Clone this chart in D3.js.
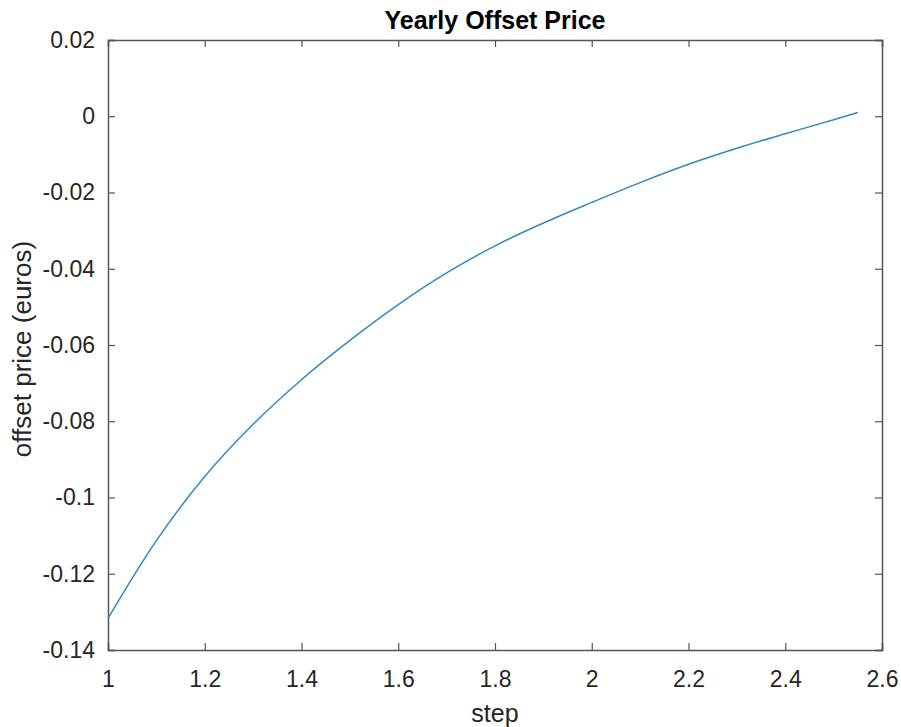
<!DOCTYPE html>
<html>
<head>
<meta charset="utf-8">
<script src="https://d3js.org/d3.v7.min.js"></script>
<style>
body { margin: 0; background: #fff; }
text { font-family: "Liberation Sans", Arial, sans-serif; fill: #262626; }
.axis path, .axis line { stroke: #555; }
</style>
</head>
<body>
<svg id="chart" width="901" height="727"></svg>
<script>
// values
var steps  = [1.0, 1.1, 1.2, 1.3, 1.4, 1.5, 1.6, 1.7, 1.8, 1.9, 2.0, 2.1, 2.2, 2.3, 2.4, 2.5, 2.55];
var prices = [-0.1317, -0.1113, -0.0945, -0.0808, -0.0691, -0.0588, -0.0494, -0.0411, -0.0340, -0.0280,
              -0.0226, -0.0174, -0.0126, -0.0084, -0.0046, -0.0009, 0.0010];
var xTicks = [1, 1.2, 1.4, 1.6, 1.8, 2, 2.2, 2.4, 2.6];
var yTicks = [0.02, 0, -0.02, -0.04, -0.06, -0.08, -0.1, -0.12, -0.14];

var svg = d3.select("#chart");
var margin = {top: 40, right: 19, bottom: 77, left: 108},
    width = 901 - margin.left - margin.right,
    height = 727 - margin.top - margin.bottom;

var x = d3.scaleLinear().domain([1, 2.6]).range([0, width]);
var y = d3.scaleLinear().domain([-0.14, 0.02]).range([height, 0]);

var g = svg.append("g")
    .attr("transform", "translate(" + margin.left + "," + margin.top + ")");

// axes, matlab style: ticks point inward, box on every side
var fmt = function(d) { return String(+d.toFixed(2)); };
var tick = 7;

g.append("g").attr("class", "axis")
    .attr("transform", "translate(0," + height + ")")
    .call(d3.axisBottom(x).tickValues(xTicks).tickSize(-tick).tickPadding(21).tickFormat(fmt))
    .call(function(a) { a.selectAll("text").attr("font-size", "23px").attr("fill", "#262626"); });

g.append("g").attr("class", "axis")
    .call(d3.axisTop(x).tickValues(xTicks).tickSize(-tick).tickFormat(""));

g.append("g").attr("class", "axis")
    .call(d3.axisLeft(y).tickValues(yTicks).tickSize(-tick).tickPadding(13).tickFormat(fmt))
    .call(function(a) { a.selectAll("text").attr("font-size", "23px").attr("fill", "#262626"); });

g.append("g").attr("class", "axis")
    .attr("transform", "translate(" + width + ",0)")
    .call(d3.axisRight(y).tickValues(yTicks).tickSize(-tick).tickFormat(""));

g.selectAll(".axis path").attr("stroke-width", 1.5);
g.selectAll(".axis line").attr("stroke-width", 1.2);

// the curve
var line = d3.line()
    .x(function(d, i) { return x(steps[i]); })
    .y(function(d) { return y(d); })
    .curve(d3.curveCatmullRom);

g.append("path")
    .datum(prices)
    .attr("fill", "none")
    .attr("stroke", "#3389c2")
    .attr("stroke-width", 1.5)
    .attr("d", line);

// title and labels
svg.append("text")
    .attr("x", margin.left + width / 2)
    .attr("y", 29)
    .attr("text-anchor", "middle")
    .attr("font-size", "25px")
    .attr("font-weight", "bold")
    .style("fill", "#000")
    .text("Yearly Offset Price");

svg.append("text")
    .attr("x", margin.left + width / 2)
    .attr("y", 722)
    .attr("text-anchor", "middle")
    .attr("font-size", "25px")
    .text("step");

svg.append("text")
    .attr("transform", "translate(31,349) rotate(-90)")
    .attr("text-anchor", "middle")
    .attr("font-size", "26px")
    .text("offset price (euros)");
</script>
</body>
</html>
